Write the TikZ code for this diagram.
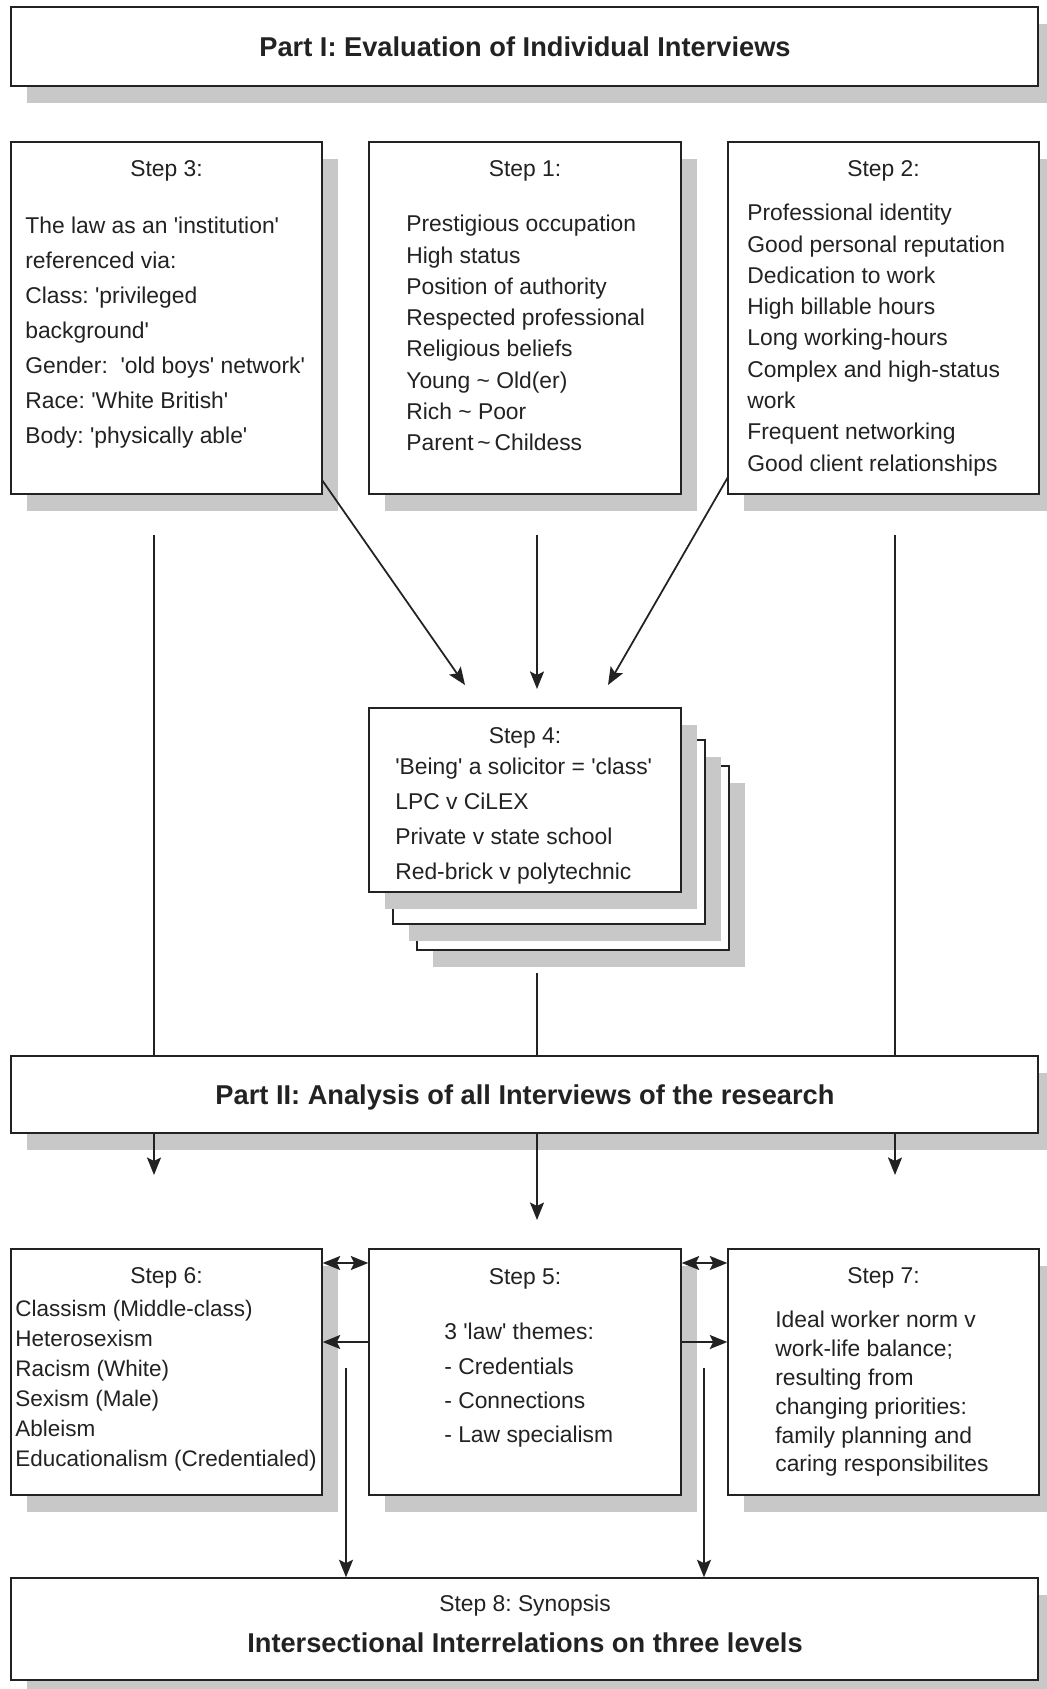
\documentclass[tikz,border=0pt]{standalone}
\usepackage{fontspec}
\setmainfont{Liberation Sans}[Ligatures=TeXOff]
\usetikzlibrary{arrows.meta,fit,shadows}
\definecolor{shadowgray}{RGB}{200,200,200}
\definecolor{ink}{RGB}{34,34,34}
\frenchspacing
\tikzset{
  box/.style={draw=ink, line width=0.8pt, fill=white, inner sep=0pt,
    drop shadow={shadow xshift=0.32cm, shadow yshift=-0.34cm, fill=shadowgray, opacity=1}},
  head/.style={anchor=base, inner sep=0pt, text=ink, font=\fontsize{13pt}{16pt}\selectfont},
  title/.style={anchor=base, inner sep=0pt, text=ink, font=\fontsize{15.5pt}{18pt}\selectfont\bfseries},
  list/.style={anchor=north west, inner sep=0pt, align=left, text=ink, font=\fontsize{13pt}{#1}\selectfont},
  conn/.style={draw=ink, line width=1pt},
  tip/.tip={Stealth[length=10pt, width=8pt, inset=2pt]},
  arr/.style={conn, -tip},
  dblarr/.style={conn, tip-tip}
}
\begin{document}
\begin{tikzpicture}[x=0.02cm, y=-0.02cm]
    \useasboundingbox (0,0) rectangle (1046,1689);
    % Part I
    \node[box, fit={(11,7) (1038,86)}] (p1) {};
    \node[title] (p1t) at (525,57) {Part I: Evaluation of Individual Interviews};
    % steps 3, 1, 2
    \node[box, fit={(11,142) (322,494)}] (s3) {};
    \node[box, fit={(369,142) (681,494)}] (s1) {};
    \node[box, fit={(728,142) (1039,494)}] (s2) {};
    \node[head] (s3h) at (166.5,177) {Step 3:};
    \node[head] (s1h) at (525,177) {Step 1:};
    \node[head] (s2h) at (883.5,177) {Step 2:};
    \node[list=19.9pt] (s3l) at (25,217) {The law as an 'institution'\\ referenced via:\\ Class: 'privileged\\ background'\\ Gender:\ \ 'old boys' network'\\ Race: 'White British'\\ Body: 'physically able'};
    \node[list=17.8pt] (s1l) at (406,215) {Prestigious occupation\\ High status\\ Position of authority\\ Respected professional\\ Religious beliefs\\ Young \textasciitilde{} Old(er)\\ Rich \textasciitilde{} Poor\\ Parent\,\textasciitilde\,Childess};
    \node[list=17.8pt] (s2l) at (747,204) {Professional identity\\ Good personal reputation\\ Dedication to work\\ High billable hours\\ Long working-hours\\ Complex and high-status\\ work\\ Frequent networking\\ Good client relationships};
    % Step 4, three sheets
    \node[box, fit={(417,766) (729,950)}] (s4back) {};
    \node[box, fit={(393,740) (705,924)}] (s4mid) {};
    \node[box, fit={(369,708) (681,892)}] (s4) {};
    \node[head] (s4h) at (525,743) {Step 4:};
    \node[list=19.75pt] (s4l) at (395,758) {'Being' a solicitor = 'class'\\ LPC v CiLEX\\ Private v state school\\ Red-brick v polytechnic};
    % Part II
    \node[box, fit={(11,1056) (1038,1133)}] (p2) {};
    \node[title] (p2t) at (525,1104) {Part II: Analysis of all Interviews of the research};
    % steps 6, 5, 7
    \node[box, fit={(11,1249) (322,1495)}] (s6) {};
    \node[box, fit={(369,1249) (681,1495)}] (s5) {};
    \node[box, fit={(728,1249) (1039,1495)}] (s7) {};
    \node[head] (s6h) at (166.5,1283) {Step 6:};
    \node[head] (s5h) at (525,1284) {Step 5:};
    \node[head] (s7h) at (883.5,1283) {Step 7:};
    \node[list=17.1pt, font=\fontsize{12.8pt}{17.1pt}\selectfont] (s6l) at (15,1300) {Classism (Middle-class)\\ Heterosexism\\ Racism (White)\\ Sexism (Male)\\ Ableism\\ Educationalism (Credentialed)};
    \node[list=19.5pt] (s5l) at (444,1323) {3 'law' themes:\\ - Credentials\\ - Connections\\ - Law specialism};
    \node[list=16.4pt] (s7l) at (775,1311) {Ideal worker norm v\\ work-life balance;\\ resulting from\\ changing priorities:\\ family planning and\\ caring responsibilites};
    % Step 8
    \node[box, fit={(11,1578) (1038,1680)}] (s8) {};
    \node[head] (s8h) at (525,1611) {Step 8: Synopsis};
    \node[title] (s8t) at (525,1652) {Intersectional Interrelations on three levels};
    % connectors
    \coordinate (a3) at (322,480);
    \coordinate (a1) at (537,535);
    \coordinate (a2) at (728,477);
    \draw[arr] (a3) -- (465,685) coordinate (t3);
    \draw[arr] (a1) -- (537,689) coordinate (t1);
    \draw[arr] (a2) -- (608,685) coordinate (t2);
    \draw[conn] (154,535) coordinate (v3) -- (v3 |- p2.north);
    \draw[conn] (537,973) coordinate (v4) -- (v4 |- p2.north);
    \draw[conn] (895,535) coordinate (v2) -- (v2 |- p2.north);
    \draw[arr] (v3 |- p2.south) -- (154,1175);
    \draw[arr] (v4 |- p2.south) -- (537,1220);
    \draw[arr] (v2 |- p2.south) -- (895,1175);
    \draw[dblarr] (s6.east |- 0,1263) -- (s5.west |- 0,1263);
    \draw[dblarr] (s5.east |- 0,1263) -- (s7.west |- 0,1263);
    \draw[arr] (s5.west |- 0,1342) -- (s6.east |- 0,1342);
    \draw[arr] (s5.east |- 0,1342) -- (s7.west |- 0,1342);
    \draw[arr] (346,1368) coordinate (d6) -- (d6 |- s8.north);
    \draw[arr] (704,1368) coordinate (d7) -- (d7 |- s8.north);
\end{tikzpicture}
\end{document}
